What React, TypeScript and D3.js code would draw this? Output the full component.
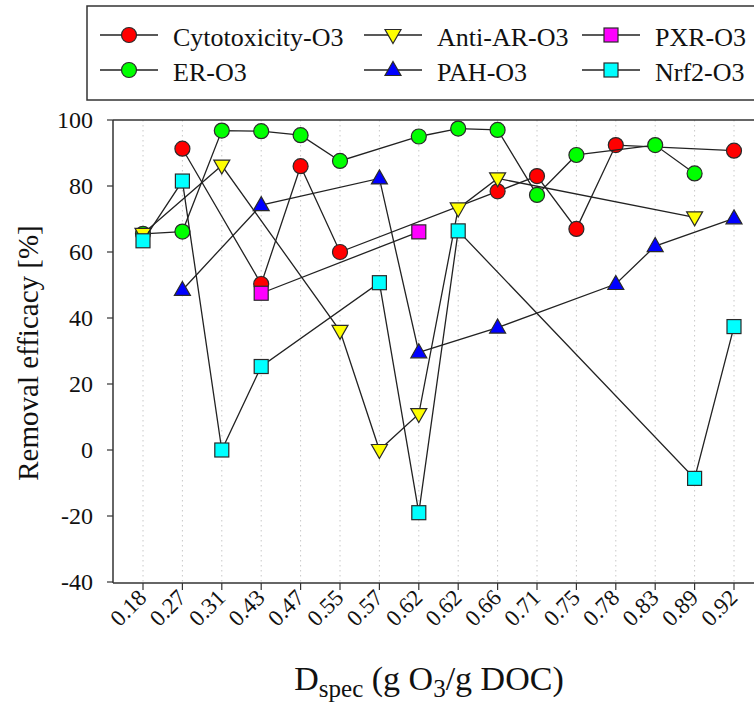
import React from 'react';
import * as d3 from 'd3';

// x categories (Dspec, g O3/g DOC) - 0.62 appears twice
const categories = ['0.18', '0.27', '0.31', '0.43', '0.47', '0.55', '0.57', '0.62', '0.62', '0.66', '0.71', '0.75', '0.78', '0.83', '0.89', '0.92'];
const yTicks = [-40, -20, 0, 20, 40, 60, 80, 100];

// [category index, removal efficacy %]
const cytotoxicity: [number, number][] = [[1, 91.3], [3, 50.3], [4, 86], [5, 60], [9, 78.4], [10, 83], [11, 67], [12, 92.4], [15, 90.7]];
const er: [number, number][] = [[0, 65.5], [1, 66.2], [2, 96.8], [3, 96.6], [4, 95.4], [5, 87.6], [7, 95], [8, 97.4], [9, 97], [10, 77.3], [11, 89.4], [13, 92.4], [14, 83.8]];
const antiAR: [number, number][] = [[0, 65.5], [2, 86.2], [5, 36.1], [6, 0], [7, 10.9], [8, 73.2], [9, 82.3], [14, 70.5]];
const pah: [number, number][] = [[1, 48.5], [3, 74.2], [6, 82.3], [7, 29.6], [9, 37.1], [12, 50.3], [13, 61.8], [15, 70.2]];
const pxr: [number, number][] = [[3, 47.5], [7, 66.1]];
const nrf2: [number, number][] = [[0, 63.4], [1, 81.5], [2, 0], [3, 25.3], [6, 50.7], [7, -19], [8, 66.4], [14, -8.6], [15, 37.4]];

const series = [
  { name: 'Cytotoxicity-O3', data: cytotoxicity, color: '#ff0000', shape: 'circle', col: 0, row: 0 },
  { name: 'ER-O3', data: er, color: '#00ff00', shape: 'circle', col: 0, row: 1 },
  { name: 'Anti-AR-O3', data: antiAR, color: '#ffff00', shape: 'triDown', col: 1, row: 0 },
  { name: 'PAH-O3', data: pah, color: '#0000ff', shape: 'triUp', col: 1, row: 1 },
  { name: 'PXR-O3', data: pxr, color: '#ff00ff', shape: 'square', col: 2, row: 0 },
  { name: 'Nrf2-O3', data: nrf2, color: '#00ffff', shape: 'square', col: 2, row: 1 },
];

const FONT = 'Liberation Serif, DejaVu Serif, serif';

function Marker({ shape, x, y, color }: { shape: string; x: number; y: number; color: string }) {
  const common = { fill: color, stroke: '#2a2a2a', strokeWidth: 1.2 };
  if (shape === 'circle') return <circle cx={x} cy={y} r={7.5} {...common} />;
  if (shape === 'square') return <rect x={x - 7} y={y - 7} width={14} height={14} {...common} />;
  if (shape === 'triUp') return <path d={`M${x},${y - 8.5} L${x + 8},${y + 5.5} L${x - 8},${y + 5.5} Z`} {...common} />;
  return <path d={`M${x},${y + 8.5} L${x + 8},${y - 5.5} L${x - 8},${y - 5.5} Z`} {...common} />;
}

export default function App() {
  const width = 754;
  const height = 708;
  const left = 113;
  const right = 754;
  const top = 120;
  const bottom = 583;

  const x = d3.scaleLinear().domain([0, categories.length - 1]).range([143, 734]);
  const y = d3.scaleLinear().domain([-40, 100]).range([582, 120]);

  const line = d3.line<[number, number]>()
    .x(d => x(d[0]))
    .y(d => y(d[1]));

  const legendCols = [100, 364, 582];
  const legendRows = [35, 70];

  return (
    <svg width={width} height={height} style={{ position: 'absolute', left: 0, top: 0, background: '#fff' }} fontFamily={FONT}>
      {/* Legend */}
      <rect x={87} y={6} width={700} height={94} fill="#fff" stroke="#333" strokeWidth={1.5} />
      {series.map(s => {
        const lx = legendCols[s.col];
        const ry = legendRows[s.row];
        return (
          <g key={s.name}>
            <line x1={lx} x2={lx + 58} y1={ry} y2={ry} stroke="#222" strokeWidth={1.3} />
            <Marker shape={s.shape} x={lx + 29} y={ry} color={s.color} />
            <text x={lx + 73} y={ry + 11} fontSize={26} fill="#111">{s.name}</text>
          </g>
        );
      })}

      {/* Grid */}
      {categories.map((_, i) => (
        <line key={i} x1={x(i)} x2={x(i)} y1={top} y2={bottom} stroke="#c8c8c8" strokeDasharray="1.5,3.5" />
      ))}

      {/* Frame */}
      <line x1={left} x2={right} y1={top} y2={top} stroke="#333" strokeWidth={1.5} />
      <line x1={left} x2={left} y1={top} y2={bottom} stroke="#333" strokeWidth={1.5} />
      <line x1={left} x2={right} y1={bottom} y2={bottom} stroke="#333" strokeWidth={1.5} />

      {/* Y axis */}
      {yTicks.map(t => (
        <g key={t}>
          <line x1={left - 6} x2={left} y1={y(t)} y2={y(t)} stroke="#333" strokeWidth={1.2} />
          <text x={93} y={y(t) + 8} textAnchor="end" fontSize={24} fill="#111">{t}</text>
        </g>
      ))}
      <text
        x={0}
        y={0}
        transform={`translate(38,353) rotate(-90)`}
        textAnchor="middle"
        fontSize={29}
        fill="#111"
      >
        Removal efficacy [%]
      </text>

      {/* X axis */}
      {categories.map((c, i) => (
        <g key={i}>
          <line x1={x(i)} x2={x(i)} y1={bottom} y2={bottom + 7} stroke="#333" strokeWidth={1.2} />
          <text
            transform={`translate(${x(i) + 5},${bottom + 16}) rotate(-45)`}
            textAnchor="end"
            fontSize={23}
            fill="#111"
          >
            {c}
          </text>
        </g>
      ))}
      <text x={429} y={690} textAnchor="middle" fontSize={34} fill="#111">
        D<tspan fontSize={25} dy={7}>spec</tspan>
        <tspan dy={-7}> (g O</tspan>
        <tspan fontSize={25} dy={7}>3</tspan>
        <tspan dy={-7}>/g DOC)</tspan>
      </text>

      {/* Series */}
      {series.map(s => (
        <g key={s.name}>
          <path d={line(s.data) || ''} fill="none" stroke="#222" strokeWidth={1.3} />
          {s.data.map((d, j) => (
            <Marker key={j} shape={s.shape} x={x(d[0])} y={y(d[1])} color={s.color} />
          ))}
        </g>
      ))}
    </svg>
  );
}
